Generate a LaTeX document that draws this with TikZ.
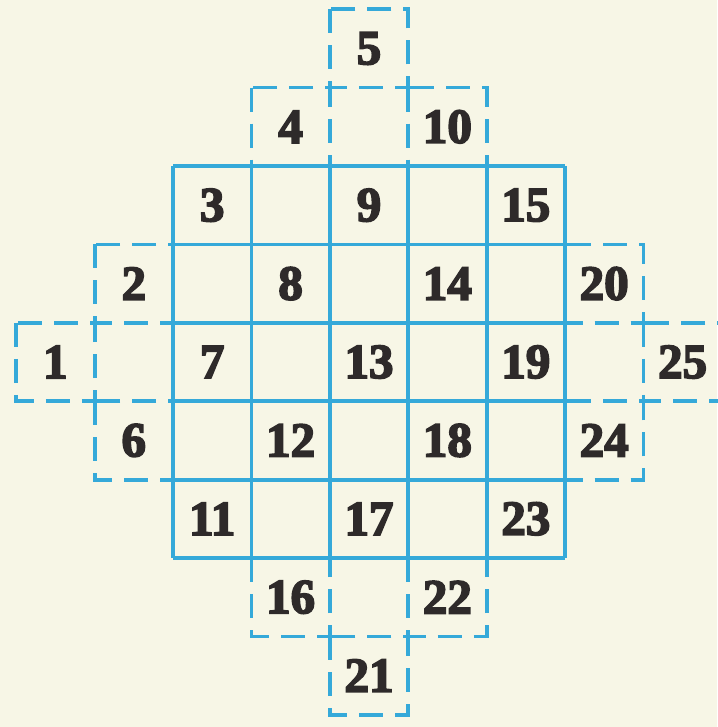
\documentclass[tikz,border=0pt]{standalone}
\usepackage{fontspec}
\newfontfamily\numfont[BoldFeatures={FakeBold=3.5}]{Liberation Serif}
\definecolor{gridblue}{HTML}{35A9D9}
\definecolor{paper}{HTML}{F7F6E6}
\definecolor{ink}{HTML}{2E2A2A}
\begin{document}
\begin{tikzpicture}[x=1pt,y=-1pt,
  solidline/.style={gridblue, line width=3.8pt, line cap=square},
  dashline/.style={gridblue, line width=3.8pt, dash pattern=on 24pt off 12pt},
  num/.style={font=\numfont\bfseries\fontsize{49}{49}\selectfont, text=ink, inner sep=0pt}]
\fill[paper] (0,0) rectangle (717,727);
\useasboundingbox (0,0) rectangle (717,727);
\def\s{78.4}
% dashed outside cells
\foreach \c/\r in {1/-1,3/-1,2/-2,-1/1,-2/2,-1/3,5/1,6/2,5/3,1/5,3/5,2/6}
  \draw[dashline] ({173+\c*\s},{166+\r*\s}) rectangle ++(\s,\s);
% solid 5x5 grid
\foreach \i in {0,...,5} {
  \draw[solidline] ({173+\i*\s},166) -- ({173+\i*\s},{166+5*\s});
  \draw[solidline] (173,{166+\i*\s}) -- ({173+5*\s},{166+\i*\s});
}
% numbers
\foreach \a in {0,...,4} {
  \foreach \b in {0,...,4} {
    \pgfmathtruncatemacro\n{5*\a+\b+1}
    \pgfmathsetmacro\cx{173+(\a+\b-2+0.5)*\s}
    \pgfmathsetmacro\cy{166+(\a-\b+2+0.5)*\s}
    \node[num] (n\n) at (\cx,\cy) {\n};
  }
}
\end{tikzpicture}
\end{document}
